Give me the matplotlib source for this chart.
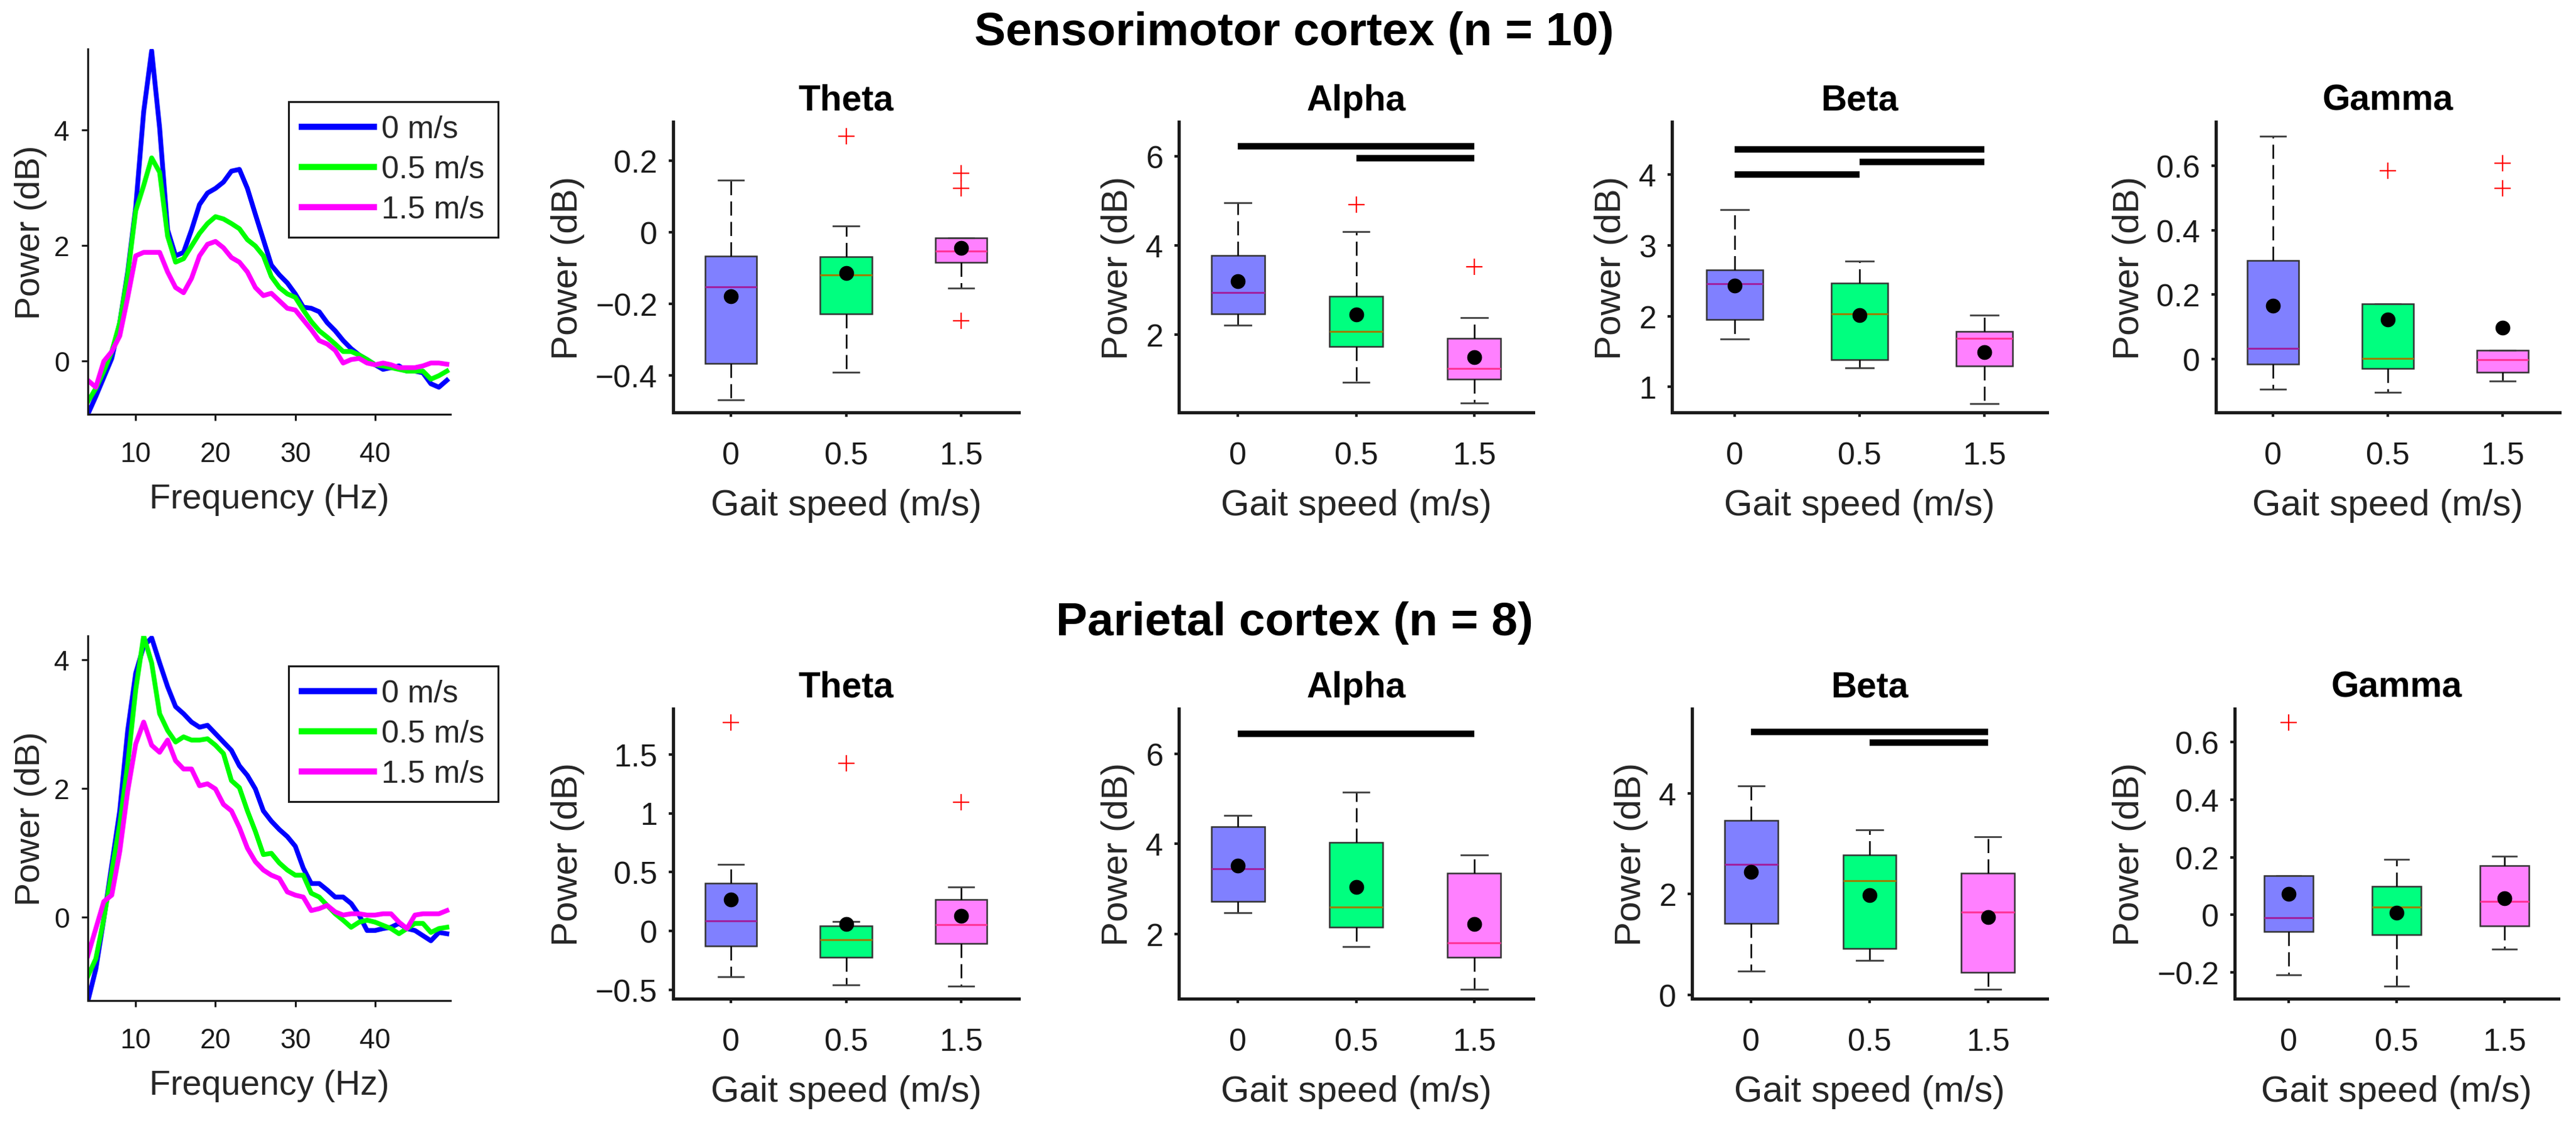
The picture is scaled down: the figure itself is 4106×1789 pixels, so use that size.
import matplotlib
matplotlib.use('Agg')
import matplotlib.pyplot as plt
from matplotlib.ticker import FuncFormatter

plt.rcParams['font.family'] = ['Liberation Sans', 'DejaVu Sans']
plt.rcParams['text.color'] = '#262626'
plt.rcParams['axes.labelcolor'] = '#262626'

# ---- data -----------------------------------------------------------
speed_labels = ['0 m/s', '0.5 m/s', '1.5 m/s']
speed_ticks = ['0', '0.5', '1.5']
band_names = ['Theta', 'Alpha', 'Beta', 'Gamma']

freq_hz = list(range(4, 50))

# sensorimotor spectra (dB)
sm_psd_0 = [-0.93, -0.62, -0.29, 0.04, 0.66, 1.54, 2.66, 4.32, 5.38, 4.04, 2.27, 1.82,
            1.88, 2.27, 2.71, 2.91, 2.99, 3.10, 3.29, 3.32, 2.99, 2.54, 2.10, 1.66,
            1.49, 1.35, 1.16, 0.93, 0.91, 0.85, 0.66, 0.52, 0.35, 0.21, 0.10, 0.02,
            -0.07, -0.15, -0.12, -0.09, -0.18, -0.18, -0.21, -0.40, -0.46, -0.34]
sm_psd_05 = [-0.71, -0.48, -0.18, 0.16, 0.66, 1.49, 2.60, 3.04, 3.52, 3.27, 2.16, 1.71,
             1.77, 1.99, 2.21, 2.38, 2.50, 2.46, 2.38, 2.29, 2.10, 1.99, 1.82, 1.46,
             1.27, 1.16, 1.10, 0.88, 0.68, 0.52, 0.41, 0.29, 0.16, 0.16, 0.10, 0.02,
             -0.07, -0.09, -0.12, -0.15, -0.18, -0.18, -0.18, -0.32, -0.26, -0.18]
sm_psd_15 = [-0.34, -0.46, -0.01, 0.16, 0.43, 1.10, 1.82, 1.88, 1.88, 1.88, 1.54, 1.27,
             1.18, 1.43, 1.82, 2.02, 2.07, 1.96, 1.79, 1.71, 1.54, 1.27, 1.13, 1.17,
             1.04, 0.91, 0.88, 0.71, 0.54, 0.35, 0.29, 0.18, -0.04, 0.02, 0.04, -0.04,
             -0.07, -0.04, -0.07, -0.12, -0.12, -0.12, -0.09, -0.04, -0.04, -0.06]

# parietal spectra (dB)
par_psd_0 = [-1.31, -0.81, -0.03, 0.81, 1.65, 2.90, 3.79, 4.21, 4.34, 3.95, 3.58, 3.27,
             3.16, 3.03, 2.95, 2.98, 2.85, 2.72, 2.59, 2.35, 2.20, 1.99, 1.65, 1.49,
             1.36, 1.25, 1.10, 0.76, 0.52, 0.52, 0.42, 0.31, 0.31, 0.21, 0.03, -0.21,
             -0.21, -0.18, -0.16, -0.10, -0.18, -0.21, -0.29, -0.37, -0.24, -0.26]
par_psd_05 = [-0.92, -0.65, -0.03, 0.71, 1.44, 2.38, 3.53, 4.37, 3.95, 3.16, 2.90, 2.72,
              2.80, 2.75, 2.75, 2.77, 2.67, 2.54, 2.12, 2.01, 1.65, 1.33, 0.97, 0.99,
              0.84, 0.73, 0.65, 0.65, 0.37, 0.31, 0.18, 0.05, -0.05, -0.16, -0.08, -0.05,
              -0.08, -0.13, -0.18, -0.26, -0.18, -0.10, -0.10, -0.24, -0.18, -0.16]
par_psd_15 = [-0.60, -0.18, 0.24, 0.34, 1.02, 1.96, 2.69, 3.03, 2.67, 2.56, 2.75, 2.43,
              2.30, 2.30, 2.04, 2.07, 1.99, 1.75, 1.65, 1.39, 1.07, 0.86, 0.73, 0.65,
              0.60, 0.39, 0.34, 0.31, 0.10, 0.13, 0.18, 0.08, 0.03, 0.05, 0.05, 0.03,
              0.03, 0.05, 0.05, -0.08, -0.18, 0.03, 0.05, 0.05, 0.05, 0.10]

# box statistics, rows = theta, alpha, beta, gamma; columns = 0, 0.5, 1.5 m/s
sm_q1 = [[-0.367, -0.228, -0.084], [2.46, 1.73, 1.00], [1.956, 1.382, 1.293], [-0.016, -0.028, -0.041]]
sm_med = [[-0.153, -0.119, -0.053], [2.94, 2.07, 1.24], [2.459, 2.034, 1.684], [0.034, 0.002, -0.002]]
sm_q3 = [[-0.066, -0.068, -0.015], [3.77, 2.86, 1.91], [2.656, 2.469, 1.779], [0.306, 0.171, 0.028]]
sm_lo = [[-0.468, -0.391, -0.155], [2.21, 0.92, 0.46], [1.677, 1.269, 0.760], [-0.093, -0.102, -0.067]]
sm_hi = [[0.146, 0.017, -0.015], [4.95, 4.30, 2.38], [3.502, 2.775, 2.017], [0.692, 0.171, 0.028]]
sm_mean = [[-0.178, -0.114, -0.043], [3.19, 2.45, 1.49], [2.435, 2.010, 1.490], [0.166, 0.123, 0.098]]
sm_out = [[[], [0.269], [0.166, 0.123, -0.247]],
          [[], [4.91], [3.52]],
          [[], [], []],
          [[], [0.585], [0.607, 0.529]]]

par_q1 = [[-0.129, -0.224, -0.108], [2.724, 2.149, 1.483], [1.419, 0.922, 0.444], [-0.058, -0.068, -0.038]]
par_med = [[0.088, -0.076, 0.051], [3.443, 2.600, 1.810], [2.595, 2.270, 1.649], [-0.010, 0.028, 0.047]]
par_q3 = [[0.408, 0.045, 0.265], [4.386, 4.030, 3.358], [3.465, 2.786, 2.413], [0.136, 0.098, 0.171]]
par_lo = [[-0.388, -0.459, -0.469], [2.480, 1.723, 0.775], [0.464, 0.683, 0.105], [-0.208, -0.248, -0.118]]
par_hi = [[0.567, 0.078, 0.371], [4.636, 5.148, 3.758], [4.158, 3.274, 3.145], [0.136, 0.193, 0.203]]
par_mean = [[0.265, 0.057, 0.129], [3.52, 3.05, 2.23], [2.437, 1.983, 1.539], [0.073, 0.007, 0.057]]
par_out = [[[1.769], [1.422], [1.092]],
           [[], [], []],
           [[], [], []],
           [[0.667], [], []]]

# significance bars (from box, to box, height in dB)
sm_sig = [[], [(1, 3, 6.22), (2, 3, 5.96)], [(1, 3, 4.36), (2, 3, 4.185), (1, 2, 4.005)], []]
par_sig = [[], [(1, 3, 6.44)], [(1, 3, 5.23), (2, 3, 5.02)], []]

# ---- style ------------------------------------------------------------
line_colors = ['#0000ff', '#00ff00', '#ff00ff']
box_colors = ['#8080ff', '#00ff7f', '#ff80ff']
median_colors = ['#a020a0', '#9a8000', '#ff3399']
axis_col = '#1a1a1a'

W, H = 4106, 1790
DPI = 100
fig = plt.figure(figsize=(W / DPI, H / DPI), dpi=DPI)

minus_fmt = FuncFormatter(lambda v, p: ('%g' % v).replace('-', '\u2212'))


def axes_px(l, r, t, b):
    return fig.add_axes([l / W, 1 - b / H, (r - l) / W, (b - t) / H])


def clean_spines(ax, lw):
    for s in ['top', 'right']:
        ax.spines[s].set_visible(False)
    for s in ['left', 'bottom']:
        ax.spines[s].set_linewidth(lw)
        ax.spines[s].set_color(axis_col)


def draw_spectrum(rect, curves, ylim, leg_xy):
    ax = axes_px(*rect)
    for vals, c, lab in zip(curves, line_colors, speed_labels):
        ax.plot(freq_hz, vals, color=c, lw=5.5, label=lab, solid_joinstyle='round')
    ax.set_xlim(4, 49.45)
    ax.set_ylim(*ylim)
    ax.set_xticks([10, 20, 30, 40])
    ax.set_yticks([0, 2, 4])
    clean_spines(ax, 2.2)
    ax.tick_params(direction='out', length=7, width=2.2, labelsize=32, colors=axis_col)
    ax.tick_params(axis='x', pad=24)
    ax.tick_params(axis='y', pad=14)
    ax.set_xlabel('Frequency (Hz)', fontsize=40, labelpad=18)
    ax.set_ylabel('Power (dB)', fontsize=40, labelpad=8)
    leg = ax.legend(loc='upper left', bbox_to_anchor=(leg_xy[0] / W, 1 - leg_xy[1] / H),
                    bbox_transform=fig.transFigure, fontsize=36, frameon=True,
                    fancybox=False, edgecolor='#1a1a1a', framealpha=1,
                    borderaxespad=0, handlelength=2.3, handletextpad=0.25,
                    borderpad=0.42, labelspacing=0.36)
    leg.get_frame().set_linewidth(2.2)
    for ln in leg.get_lines():
        ln.set_linewidth(7)


def draw_box(rect, band, q1, med, q3, lo, hi, mean, out, sig, ylim, yticks):
    ax = axes_px(*rect)
    stats = []
    for k in range(3):
        stats.append(dict(q1=q1[k], med=med[k], q3=q3[k], whislo=lo[k], whishi=hi[k],
                          mean=mean[k], fliers=out[k]))
    bp = ax.bxp(stats, positions=[1, 2, 3], widths=0.45, capwidths=0.22,
                showmeans=True, patch_artist=True, manage_ticks=False,
                meanprops=dict(marker='o', markerfacecolor='k', markeredgecolor='k',
                               markersize=16),
                flierprops=dict(marker='+', markeredgecolor='red', markersize=19,
                                markeredgewidth=1.6),
                whiskerprops=dict(color='k', lw=1.8, linestyle=(0, (9, 4))),
                capprops=dict(color='#404040', lw=2),
                boxprops=dict(edgecolor='#333333', lw=1.8),
                medianprops=dict(lw=2.2))
    for patch, fc in zip(bp['boxes'], box_colors):
        patch.set_facecolor(fc)
    for m, mc in zip(bp['medians'], median_colors):
        m.set_color(mc)
    for x0, x1, y in sig:
        ax.plot([x0, x1], [y, y], color='k', lw=7.5, solid_capstyle='butt')
    ax.set_xlim(0.5, 3.5)
    ax.set_ylim(*ylim)
    ax.set_yticks(yticks)
    ax.yaxis.set_major_formatter(minus_fmt)
    ax.set_xticks([1, 2, 3])
    ax.set_xticklabels(speed_ticks)
    clean_spines(ax, 3.6)
    ax.tick_params(direction='out', length=5, width=3, labelsize=36, colors=axis_col)
    ax.tick_params(axis='x', pad=28)
    ax.tick_params(axis='y', pad=13)
    ax.set_title(band, fontsize=41, fontweight='bold', pad=14, color='k')
    ax.set_xlabel('Gait speed (m/s)', fontsize=42, labelpad=21)
    ax.set_ylabel('Power (dB)', fontsize=42, labelpad=12)


# ---- layout (pixel boxes: left, right, top, bottom) ------------------
top_rects = [(1073, 1624, 195, 658), (1879, 2444, 195, 658),
             (2665, 3263, 195, 658), (3532, 4080, 195, 658)]
bot_rects = [(1073, 1624, 1130, 1592), (1879, 2444, 1130, 1592),
             (2697, 3263, 1130, 1592), (3562, 4078, 1130, 1592)]
top_ylims = [(-0.503, 0.309), (0.25, 6.77), (0.637, 4.75), (-0.165, 0.736)]
bot_ylims = [(-0.576, 1.888), (0.567, 7.0), (-0.08, 5.69), (-0.291, 0.715)]
top_yticks = [[-0.4, -0.2, 0, 0.2], [2, 4, 6], [1, 2, 3, 4], [0, 0.2, 0.4, 0.6]]
bot_yticks = [[-0.5, 0, 0.5, 1, 1.5], [2, 4, 6], [0, 2, 4], [-0.2, 0, 0.2, 0.4, 0.6]]

draw_spectrum((140, 718, 79, 661), [sm_psd_0, sm_psd_05, sm_psd_15], (-0.93, 5.41), (460, 163))
draw_spectrum((140, 718, 1014, 1595), [par_psd_0, par_psd_05, par_psd_15], (-1.30, 4.37), (460, 1062))

for i, band in enumerate(band_names):
    draw_box(top_rects[i], band, sm_q1[i], sm_med[i], sm_q3[i], sm_lo[i], sm_hi[i],
             sm_mean[i], sm_out[i], sm_sig[i], top_ylims[i], top_yticks[i])
    draw_box(bot_rects[i], band, par_q1[i], par_med[i], par_q3[i], par_lo[i], par_hi[i],
             par_mean[i], par_out[i], par_sig[i], bot_ylims[i], bot_yticks[i])

fig.text(2063 / W, 1 - 72 / H, 'Sensorimotor cortex (n = 10)', ha='center', va='baseline',
         fontsize=54, fontweight='bold', color='k')
fig.text(2063 / W, 1 - 1012 / H, 'Parietal cortex (n = 8)', ha='center', va='baseline',
         fontsize=54, fontweight='bold', color='k')

fig.savefig('out.png', dpi=DPI, facecolor='white')
